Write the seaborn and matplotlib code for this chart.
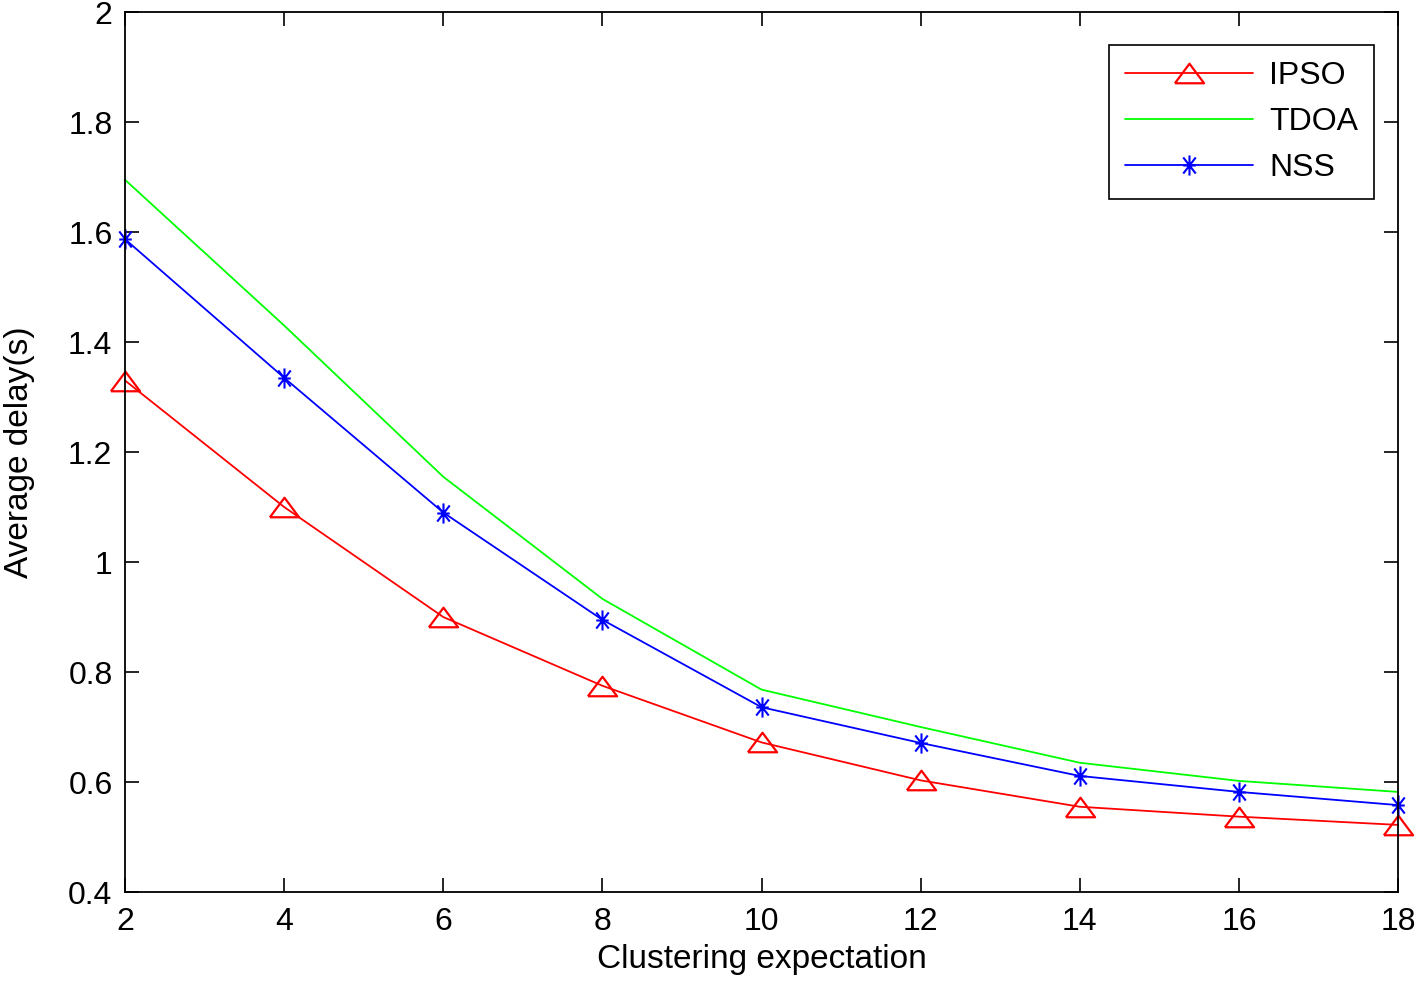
import matplotlib
matplotlib.use('Agg')
import matplotlib.pyplot as plt
from matplotlib.path import Path
import seaborn as sns

# Values
expectation = [2, 4, 6, 8, 10, 12, 14, 16, 18]
ipso = [1.33, 1.10, 0.90, 0.775, 0.672, 0.603, 0.555, 0.537, 0.522]
tdoa = [1.695, 1.43, 1.155, 0.933, 0.768, 0.70, 0.635, 0.602, 0.582]
nss = [1.587, 1.335, 1.09, 0.895, 0.736, 0.671, 0.611, 0.582, 0.558]

sns.set_style('ticks')
plt.rcParams['font.family'] = ['Liberation Sans', 'DejaVu Sans']
plt.rcParams['text.color'] = 'black'
plt.rcParams['axes.labelcolor'] = 'black'

# MATLAB-like markers: wide open triangle and a narrow asterisk
tri = [(-1, -0.67), (1, -0.67), (0, 0.67), (-1, -0.67)]
star = Path([(0, -1), (0, 1), (-0.62, -0.8), (0.62, 0.8), (-0.62, 0.8), (0.62, -0.8),
             (-0.62, 0), (0.62, 0)],
            [Path.MOVETO, Path.LINETO] * 4)

fig = plt.figure(figsize=(14.18, 9.82), dpi=100)
ax = fig.add_axes([125 / 1418, 1 - 892 / 982, 1273 / 1418, 880 / 982])

# one call per series so each gets its own marker
sns.lineplot(x=expectation, y=ipso, color='#ff0000', marker=tri, markersize=21,
             markerfacecolor='none', markeredgecolor='#ff0000', markeredgewidth=1.6,
             linewidth=1.3, label='IPSO', clip_on=False, ax=ax)
sns.lineplot(x=expectation, y=tdoa, color='#00ff00', linewidth=1.3, label='TDOA',
             clip_on=False, ax=ax)
sns.lineplot(x=expectation, y=nss, color='#0000ff', marker=star, markersize=14.5,
             markerfacecolor='none', markeredgecolor='#0000ff', markeredgewidth=1.5,
             linewidth=1.3, label='NSS', clip_on=False, ax=ax)

ax.set_xlim(2, 18)
ax.set_ylim(0.4, 2)
ax.set_xticks(expectation)
ax.set_yticks([0.4, 0.6, 0.8, 1, 1.2, 1.4, 1.6, 1.8, 2])
ax.set_yticklabels(['0.4', '0.6', '0.8', '1', '1.2', '1.4', '1.6', '1.8', '2'])

ax.tick_params(direction='in', length=10, width=1.2, top=True, right=True,
               labelsize=23, colors='black')
ax.tick_params(axis='x', pad=11)
ax.tick_params(axis='y', pad=9)
for s in ax.spines.values():
    s.set_linewidth(1.3)
    s.set_color('black')

ax.set_xlabel('Clustering expectation', fontsize=24, labelpad=5, color='black')
ax.set_ylabel('Average delay(s)', fontsize=24, labelpad=24, color='black')

leg = ax.legend(loc='upper right',
                bbox_to_anchor=((1374 - 125) / 1273, (892 - 45) / 880),
                borderaxespad=0, fontsize=23, handlelength=4.0,
                handletextpad=0.5, labelspacing=0.5, fancybox=False,
                framealpha=1, edgecolor='black', borderpad=0.5)
leg.get_frame().set_linewidth(1.2)
for t in leg.get_texts():
    t.set_color('black')

plt.savefig('out.png', dpi=100)
